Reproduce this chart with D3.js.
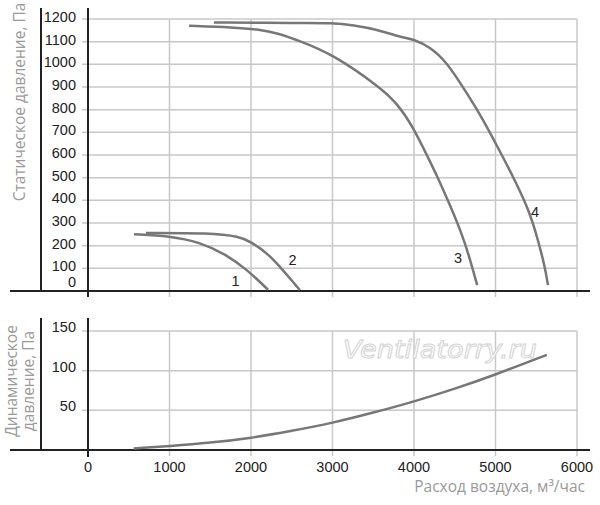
<!DOCTYPE html>
<html lang="ru">
<head>
<meta charset="UTF-8" />
<title>Характеристики вентилятора</title>
<style>
  body { margin: 0; background: #fff; }
  svg { display: block; }
  .tick-num { font-family: "Liberation Sans Narrow", "Liberation Sans", sans-serif; font-size: 14.5px; fill: #222; }
  .title { font-family: "Open Sans", "DejaVu Sans", sans-serif; font-size: 15.5px; fill: #9a9a9a; }
</style>
</head>
<body>
<svg id="chart"></svg>
<script src="https://cdnjs.cloudflare.com/ajax/libs/d3/7.8.5/d3.min.js"></script>
<script>
  // расход воздуха, м3/час
  const flowTicks = [0, 1000, 2000, 3000, 4000, 5000, 6000];
  const staticTicks = [0, 100, 200, 300, 400, 500, 600, 700, 800, 900, 1000, 1100, 1200];
  const dynamicTicks = [50, 100, 150];

  // кривые статического давления [расход, Па]
  const curve1 = [[565, 250], [1000, 243], [1370, 216], [1700, 160], [1950, 93], [2110, 40], [2210, 5]];
  const curve2 = [[710, 256], [1500, 256], [1860, 240], [1990, 218], [2200, 168], [2390, 93], [2515, 40], [2600, 4]];
  const curve3 = [[1240, 1170], [1780, 1163], [2110, 1154], [2320, 1138], [2600, 1103], [3000, 1045],
    [3580, 900], [3790, 829], [3990, 723], [4170, 590], [4280, 510], [4440, 380], [4590, 250],
    [4690, 137], [4775, 26]];
  const curve4 = [[1545, 1185], [2600, 1182], [3000, 1183], [3250, 1173], [3580, 1151], [3830, 1120],
    [3990, 1112], [4200, 1076], [4400, 1010], [4600, 900], [4810, 781], [5020, 640], [5264, 470],
    [5423, 344], [5521, 225], [5607, 106], [5644, 26]];
  const curveNames = ["1", "2", "3", "4"];
  // где подписаны кривые [расход, Па]
  const curveLabelAt = [[1810, 20], [2510, 115], [4540, 122], [5485, 326]];

  // динамическое давление [расход, Па]
  const dynamic = [[560, 2], [1000, 5], [1500, 9], [2000, 15], [2500, 24], [3000, 34], [3500, 47],
    [4000, 61], [4500, 77], [5000, 95], [5630, 120]];

  const width = 600, height = 505;
  const svg = d3.select("#chart").attr("width", width).attr("height", height);

  const x = d3.scaleLinear().domain([0, 6000]).range([88, 577]);
  const yTop = d3.scaleLinear().domain([0, 1200]).range([291, 19]);
  const yBot = d3.scaleLinear().domain([0, 150]).range([450, 331]);

  const gridColor = "#c8c8c8", axisColor = "#222", curveColor = "#777";

  function panel(y, ticks, top, bottom, leftTop) {
    const g = svg.append("g");
    // горизонтальная сетка
    g.selectAll("line.h").data(ticks.filter((d) => d > 0)).join("line")
      .attr("x1", x(0) - 6).attr("x2", x(6000))
      .attr("y1", (d) => y(d)).attr("y2", (d) => y(d))
      .attr("stroke", gridColor).attr("stroke-width", 1.5);
    // вертикальная сетка
    g.selectAll("line.v").data(flowTicks.filter((d) => d > 0)).join("line")
      .attr("x1", (d) => x(d)).attr("x2", (d) => x(d))
      .attr("y1", y(y.domain()[1])).attr("y2", y(0) + 6)
      .attr("stroke", gridColor).attr("stroke-width", 1.5);
    // оси
    g.append("line").attr("x1", 10).attr("x2", 590).attr("y1", y(0)).attr("y2", y(0))
      .attr("stroke", axisColor).attr("stroke-width", 2);
    g.append("line").attr("x1", x(0)).attr("x2", x(0)).attr("y1", top).attr("y2", bottom)
      .attr("stroke", axisColor).attr("stroke-width", 2);
    g.append("line").attr("x1", 41).attr("x2", 41).attr("y1", leftTop).attr("y2", y(0))
      .attr("stroke", axisColor).attr("stroke-width", 2);
    return g;
  }

  // верхний график
  const gTop = panel(yTop, staticTicks, 8, 297, 8);
  gTop.selectAll("text.yl").data(staticTicks).join("text")
    .attr("class", "tick-num").attr("text-anchor", "end")
    .attr("x", 76).attr("y", (d) => (d === 0 ? yTop(d) - 4 : yTop(d) + 3))
    .text((d) => d);

  // сглаживание: кривые, поэтому basis
  const line = (y) => d3.line().x((d) => x(d[0])).y((d) => y(d[1])).curve(d3.curveBasis);

  gTop.selectAll("path.curve").data([curve1, curve2, curve3, curve4]).join("path")
    .attr("d", line(yTop)).attr("fill", "none")
    .attr("stroke", curveColor).attr("stroke-width", 2.5).attr("stroke-linecap", "butt");

  gTop.selectAll("text.cl").data(curveNames).join("text")
    .attr("class", "tick-num").attr("text-anchor", "middle")
    .attr("x", (d, i) => x(curveLabelAt[i][0])).attr("y", (d, i) => yTop(curveLabelAt[i][1]))
    .text((d) => d);

  svg.append("text").attr("class", "title")
    .attr("transform", "translate(25,102) rotate(-90)").attr("text-anchor", "middle")
    .text("Статическое давление, Па");

  // нижний график
  const gBot = panel(yBot, dynamicTicks, 318, 457, 318);

  // водяной знак
  gBot.append("text").attr("x", 440).attr("y", 358).attr("text-anchor", "middle")
    .attr("font-family", "DejaVu Sans, sans-serif").attr("font-style", "italic")
    .attr("font-size", 25).attr("textLength", 194).attr("lengthAdjust", "spacingAndGlyphs")
    .attr("fill", "#fff").attr("stroke", "#d4d4d4").attr("stroke-width", 1)
    .text("Ventilatorry.ru");

  gBot.selectAll("text.yl").data(dynamicTicks).join("text")
    .attr("class", "tick-num").attr("text-anchor", "end")
    .attr("x", 76).attr("y", (d) => yBot(d) + 1)
    .text((d) => d);

  gBot.append("path").datum(dynamic)
    .attr("d", line(yBot)).attr("fill", "none")
    .attr("stroke", curveColor).attr("stroke-width", 2.5);

  gBot.selectAll("text.xl").data(flowTicks).join("text")
    .attr("class", "tick-num").attr("text-anchor", "middle")
    .attr("x", (d) => x(d)).attr("y", 472)
    .text((d) => d);

  const dynTitle = svg.append("text").attr("class", "title")
    .attr("transform", "translate(0,381) rotate(-90)").attr("text-anchor", "middle");
  dynTitle.append("tspan").attr("x", 0).attr("y", 17).text("Динамическое");
  dynTitle.append("tspan").attr("x", 0).attr("y", 34).text("давление, Па");

  svg.append("text").attr("class", "title").attr("text-anchor", "end")
    .attr("x", 585).attr("y", 492)
    .text("Расход воздуха, м³/час");
</script>
</body>
</html>
